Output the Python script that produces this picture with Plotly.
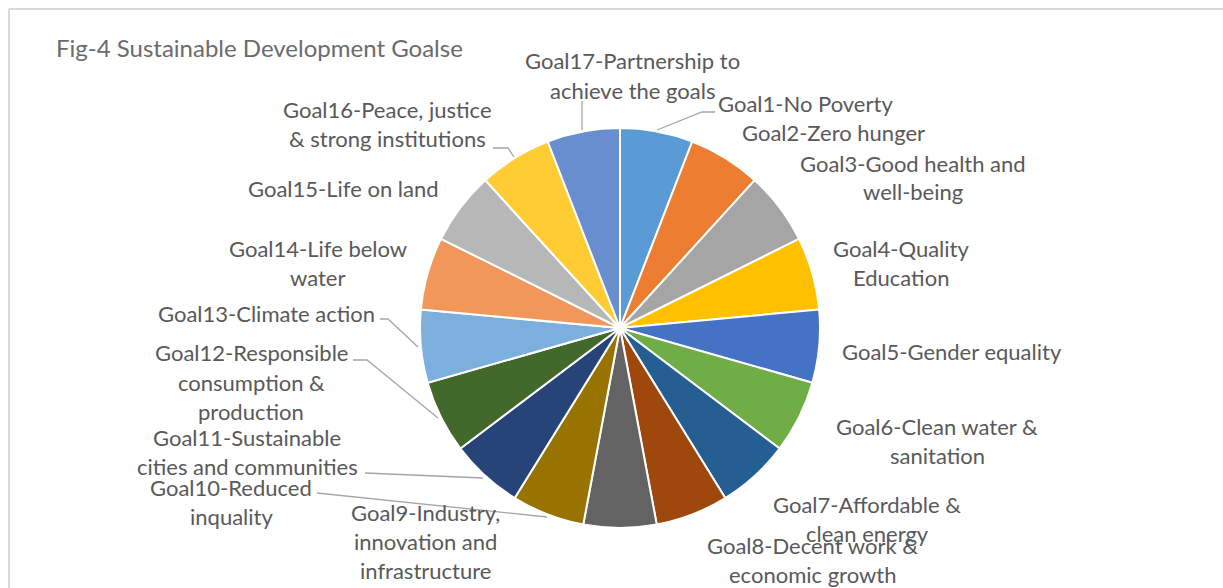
import plotly.graph_objects as go

W, H = 1223, 588

# ---- data ----
goals = [
    "Goal1-No Poverty", "Goal2-Zero hunger", "Goal3-Good health and well-being",
    "Goal4-Quality Education", "Goal5-Gender equality", "Goal6-Clean water & sanitation",
    "Goal7-Affordable & clean energy", "Goal8-Decent work & economic growth",
    "Goal9-Industry, innovation and infrastructure", "Goal10-Reduced inquality",
    "Goal11-Sustainable cities and communities",
    "Goal12-Responsible consumption & production", "Goal13-Climate action",
    "Goal14-Life below water", "Goal15-Life on land",
    "Goal16-Peace, justice & strong institutions", "Goal17-Partnership to achieve the goals",
]
values = [1] * 17
label_lines = [
    ["Goal1-No Poverty"],
    ["Goal2-Zero hunger"],
    ["Goal3-Good health and", "well-being"],
    ["Goal4-Quality", "Education"],
    ["Goal5-Gender equality"],
    ["Goal6-Clean water &", "sanitation"],
    ["Goal7-Affordable &", "clean energy"],
    ["Goal8-Decent work &", "economic growth"],
    ["Goal9-Industry,", "innovation and", "infrastructure"],
    ["Goal10-Reduced", "inquality"],
    ["Goal11-Sustainable", "cities and communities"],
    ["Goal12-Responsible", "consumption &", "production"],
    ["Goal13-Climate action"],
    ["Goal14-Life below", "water"],
    ["Goal15-Life on land"],
    ["Goal16-Peace, justice", "& strong institutions"],
    ["Goal17-Partnership to", "achieve the goals"],
]
colors = [
    "#5B9BD5", "#ED7D31", "#A5A5A5", "#FFC000", "#4472C4", "#70AD47",
    "#255E91", "#9E480E", "#636363", "#997300", "#264478", "#43682B",
    "#7CAFDD", "#F1975A", "#B7B7B7", "#FFCD33", "#698ED0",
]
title_text = "Fig-4 Sustainable Development Goalse"

# ---- layout geometry (pixels) ----
label_pos = [  # (center x, first line center y)
    (805, 104), (833, 132), (913, 163), (901, 248), (952, 351), (937, 426),
    (867, 504), (812, 545), (425, 512), (231, 487), (247, 437), (251, 353),
    (266, 313), (318, 248), (343, 188), (387, 109), (632, 61),
]
line_step = 29
leaders = [
    [(657, 130), (702, 112), (715, 112)],
    [(493, 148), (508, 148), (514, 157)],
    [(582, 101), (582, 130)],
    [(380, 319), (388, 319), (418, 347)],
    [(353, 360), (367, 360), (438, 418)],
    [(365, 473), (483, 478)],
    [(317, 493), (547, 517)],
]

def px(x):
    return x / W

def py(y):
    return 1 - y / H

cx, cy, r = 620, 328, 200

fig = go.Figure(go.Pie(
    labels=goals, values=values, sort=False, direction="clockwise", rotation=0,
    marker=dict(colors=colors, line=dict(color="white", width=2)),
    textinfo="none", hoverinfo="label", showlegend=False,
    domain=dict(x=[px(cx - r), px(cx + r)], y=[py(cy + r), py(cy - r)]),
))

font = dict(family="Lato, 'Open Sans', sans-serif", size=22, color="#595959")
ann = []
for lines, (x, y) in zip(label_lines, label_pos):
    for i, t in enumerate(lines):
        ann.append(dict(x=px(x), y=py(y + i * line_step), xref="paper", yref="paper",
                        text=t, showarrow=False, xanchor="center", yanchor="middle",
                        font=font))
ann.append(dict(x=px(54), y=py(48), xref="paper", yref="paper", text=title_text,
                showarrow=False, xanchor="left", yanchor="middle",
                font=dict(family="Lato, 'Open Sans', sans-serif", size=24, color="#6b6b6b")))

shapes = []
for pts in leaders:
    path = "M " + " L ".join(f"{px(x)},{py(y)}" for x, y in pts)
    shapes.append(dict(type="path", path=path, xref="paper", yref="paper",
                       line=dict(color="#A6A6A6", width=1.3)))
shapes.append(dict(type="line", xref="paper", yref="paper", x0=px(9), x1=1.01, y0=py(9), y1=py(9),
                   line=dict(color="#D9D9D9", width=2)))
shapes.append(dict(type="line", xref="paper", yref="paper", x0=px(9), x1=px(9), y0=py(9), y1=-0.02,
                   line=dict(color="#D9D9D9", width=2)))

fig.update_layout(
    width=W, height=H, margin=dict(l=0, r=0, t=0, b=0),
    paper_bgcolor="white", plot_bgcolor="white",
    annotations=ann, shapes=shapes,
)
fig.write_html("out.html")
